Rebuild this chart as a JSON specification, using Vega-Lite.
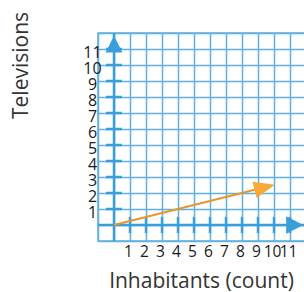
{
  "$schema": "https://vega.github.io/schema/vega-lite/v6.json",
  "autosize": {"type": "none"},
  "padding": {"left": 98, "top": 33, "right": 0, "bottom": 51},
  "width": 208,
  "height": 208,
  "background": "white",
  "config": {
    "view": {"stroke": "#5FB0E2", "strokeWidth": 1.5},
    "font": "Open Sans",
    "axis": {
      "grid": true,
      "gridColor": "#5FB0E2",
      "gridWidth": 1.5,
      "gridOpacity": 1,
      "domain": false,
      "ticks": false,
      "tickSize": 0,
      "labelFont": "Open Sans",
      "labelColor": "#1a1a1a",
      "titleFont": "Open Sans",
      "titleFontSize": 21,
      "titleFontWeight": "normal",
      "titleColor": "#333333",
      "labelOverlap": false,
      "labelFlush": false
    }
  },
  "datasets": {
    "arrow": [
      {"inhabitants": 0, "televisions": 0},
      {"inhabitants": 9.42, "televisions": 2.36}
    ],
    "xticks": [
      {"v": 1}, {"v": 2}, {"v": 3}, {"v": 4}, {"v": 5}, {"v": 6},
      {"v": 7}, {"v": 8}, {"v": 9}, {"v": 10}, {"v": 11}
    ],
    "yticks": [
      {"v": 1}, {"v": 2}, {"v": 3}, {"v": 4}, {"v": 5}, {"v": 6},
      {"v": 7}, {"v": 8}, {"v": 9}, {"v": 10}, {"v": 11}
    ],
    "xhead": [{"x": 11.3, "y": 0}],
    "yhead": [{"x": 0, "y": 11.31}]
  },
  "encoding": {
    "x": {
      "type": "quantitative",
      "scale": {"domain": [-1, 12], "nice": false, "zero": false},
      "axis": {
        "title": "Inhabitants (count)",
        "values": [-1, 0, 1, 2, 3, 4, 5, 6, 7, 8, 9, 10, 11, 12],
        "labelExpr": "datum.value >= 1 && datum.value <= 11 ? datum.label : ''",
        "labelFontSize": 15.5,
        "labelPadding": 3.5,
        "labelOffset": -2,
        "labelBaseline": "top",
        "titleX": 103,
        "titleY": 46,
        "titleAlign": "center",
        "titleBaseline": "alphabetic"
      }
    },
    "y": {
      "type": "quantitative",
      "scale": {"domain": [-1, 12], "nice": false, "zero": false},
      "axis": {
        "title": "Televisions",
        "values": [-1, 0, 1, 2, 3, 4, 5, 6, 7, 8, 9, 10, 11, 12],
        "labelExpr": "datum.value >= 1 && datum.value <= 11 ? datum.label : ''",
        "labelFontSize": 16,
        "labelPadding": 6,
        "labelAlign": "center",
        "labelBaseline": "middle",
        "labelOffset": 3.5,
        "titleX": -71,
        "titleY": 32,
        "titleAngle": -90,
        "titleAlign": "center",
        "titleBaseline": "alphabetic"
      }
    }
  },
  "layer": [
    {
      "data": {"values": [{"v": 0}]},
      "mark": {"type": "rule", "color": "#3A9EDB", "strokeWidth": 2.5},
      "encoding": {"x": {"field": "v", "type": "quantitative"}}
    },
    {
      "data": {"values": [{"v": 0}]},
      "mark": {"type": "rule", "color": "#3A9EDB", "strokeWidth": 2.5},
      "encoding": {"y": {"field": "v", "type": "quantitative"}}
    },
    {
      "data": {"name": "xticks"},
      "mark": {"type": "rule", "color": "#3A9EDB", "strokeWidth": 2.5},
      "encoding": {
        "x": {"field": "v", "type": "quantitative"},
        "y": {"datum": -0.5},
        "y2": {"datum": 0.5}
      }
    },
    {
      "data": {"name": "yticks"},
      "mark": {"type": "rule", "color": "#3A9EDB", "strokeWidth": 2.5},
      "encoding": {
        "y": {"field": "v", "type": "quantitative"},
        "x": {"datum": -0.5},
        "x2": {"datum": 0.5}
      }
    },
    {
      "data": {"name": "xhead"},
      "mark": {"type": "point", "shape": "M1,0L-1,-1L-1,1Z", "size": 300, "filled": true, "opacity": 1, "color": "#3A9EDB", "strokeWidth": 0},
      "encoding": {
        "x": {"field": "x", "type": "quantitative"},
        "y": {"field": "y", "type": "quantitative"}
      }
    },
    {
      "data": {"name": "yhead"},
      "mark": {"type": "point", "shape": "M0,-1L1,1L-1,1Z", "size": 278, "filled": true, "opacity": 1, "color": "#3A9EDB", "strokeWidth": 0},
      "encoding": {
        "x": {"field": "x", "type": "quantitative"},
        "y": {"field": "y", "type": "quantitative"}
      }
    },
    {
      "data": {"name": "arrow"},
      "mark": {"type": "line", "color": "#E8952A", "strokeWidth": 2},
      "encoding": {
        "x": {"field": "inhabitants", "type": "quantitative"},
        "y": {"field": "televisions", "type": "quantitative"}
      }
    },
    {
      "data": {"name": "arrow"},
      "transform": [{"filter": "datum.inhabitants > 0"}],
      "mark": {"type": "point", "shape": "M1,0L-1,-0.8L-1,0.8Z", "size": 441, "angle": -14, "filled": true, "opacity": 1, "color": "#F9A935", "strokeWidth": 0},
      "encoding": {
        "x": {"field": "inhabitants", "type": "quantitative"},
        "y": {"field": "televisions", "type": "quantitative"}
      }
    }
  ]
}
